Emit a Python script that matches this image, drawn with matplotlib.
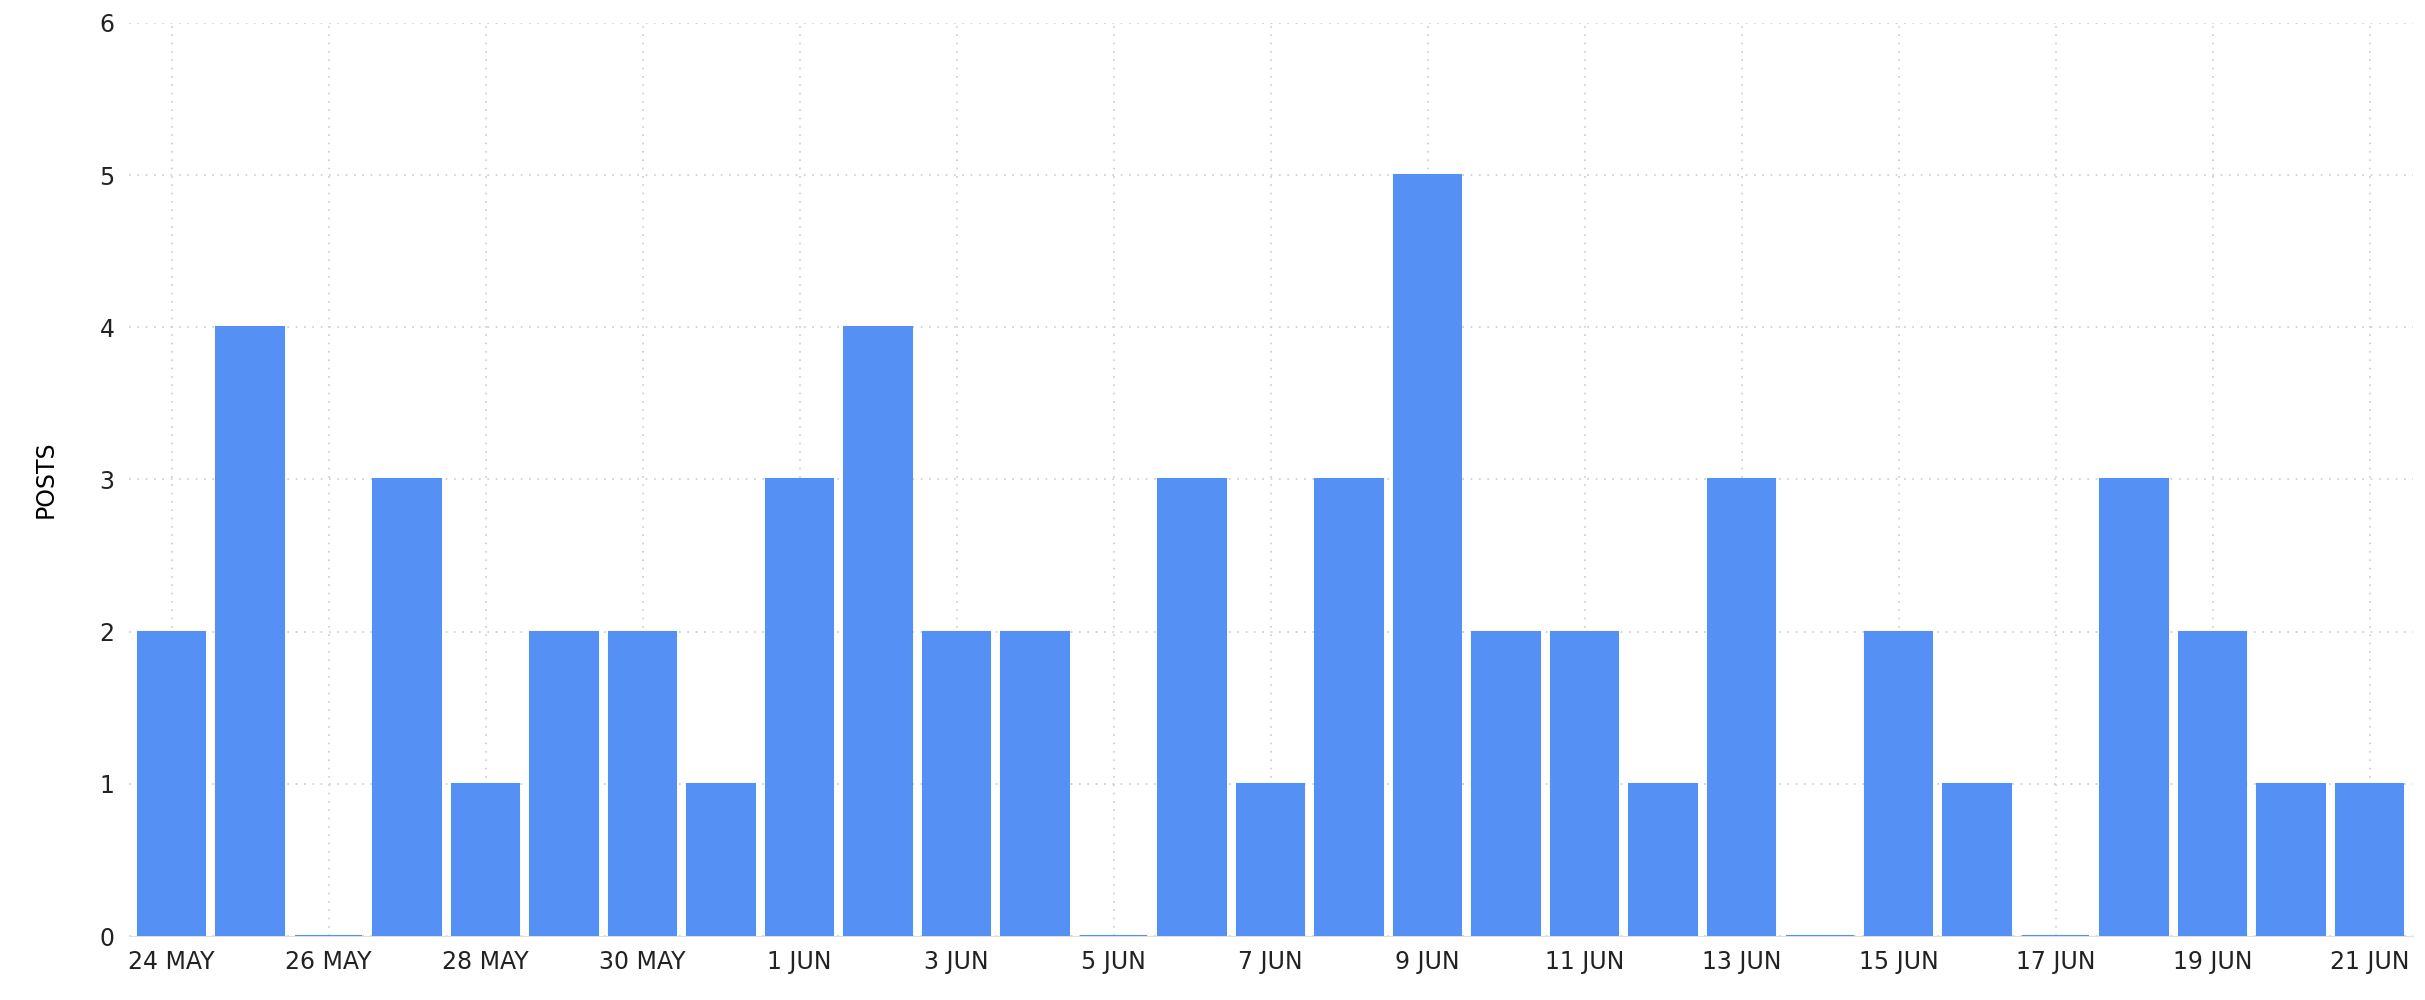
import numpy as np
import pandas as pd
import matplotlib.pyplot as plt

plt.rcParams['font.family'] = ['DejaVu Sans']

# 数据
dates = pd.date_range('2024-05-24', '2024-06-21', freq='D')
posts = [2, 4, 0, 3, 1, 2, 2, 1, 3, 4, 2, 2, 0, 3, 1, 3, 5, 2, 2, 1, 3, 0, 2, 1, 0, 3, 2, 1, 1]
tick_labels = [f"{d.day} {d.strftime('%b').upper()}" for d in dates[::2]]

fig = plt.figure(figsize=(24.25, 10), dpi=100)
ax = fig.add_axes([0.053, 0.064, 0.942, 0.913])

x = np.arange(len(posts))
ax.bar(x, posts, width=0.86, color='#5591F5', edgecolor='#5591F5', linewidth=1.5, zorder=3)

ax.set_xlim(-0.55, len(posts) - 0.45)
ax.set_ylim(0, 6)
ax.set_yticks(range(7))
ax.set_xticks(x[::2])
ax.set_xticklabels(tick_labels)
ax.tick_params(axis='both', length=0, labelsize=17, colors='#222222', pad=10)
ax.set_ylabel('POSTS', fontsize=17, labelpad=30)

ax.grid(True, linestyle=(0, (1, 4)), color='#cccccc', linewidth=1.2)
for s in ['top', 'right', 'left']:
    ax.spines[s].set_visible(False)
ax.spines['bottom'].set_color('#e0e0e0')

plt.savefig('out.png', dpi=100)
